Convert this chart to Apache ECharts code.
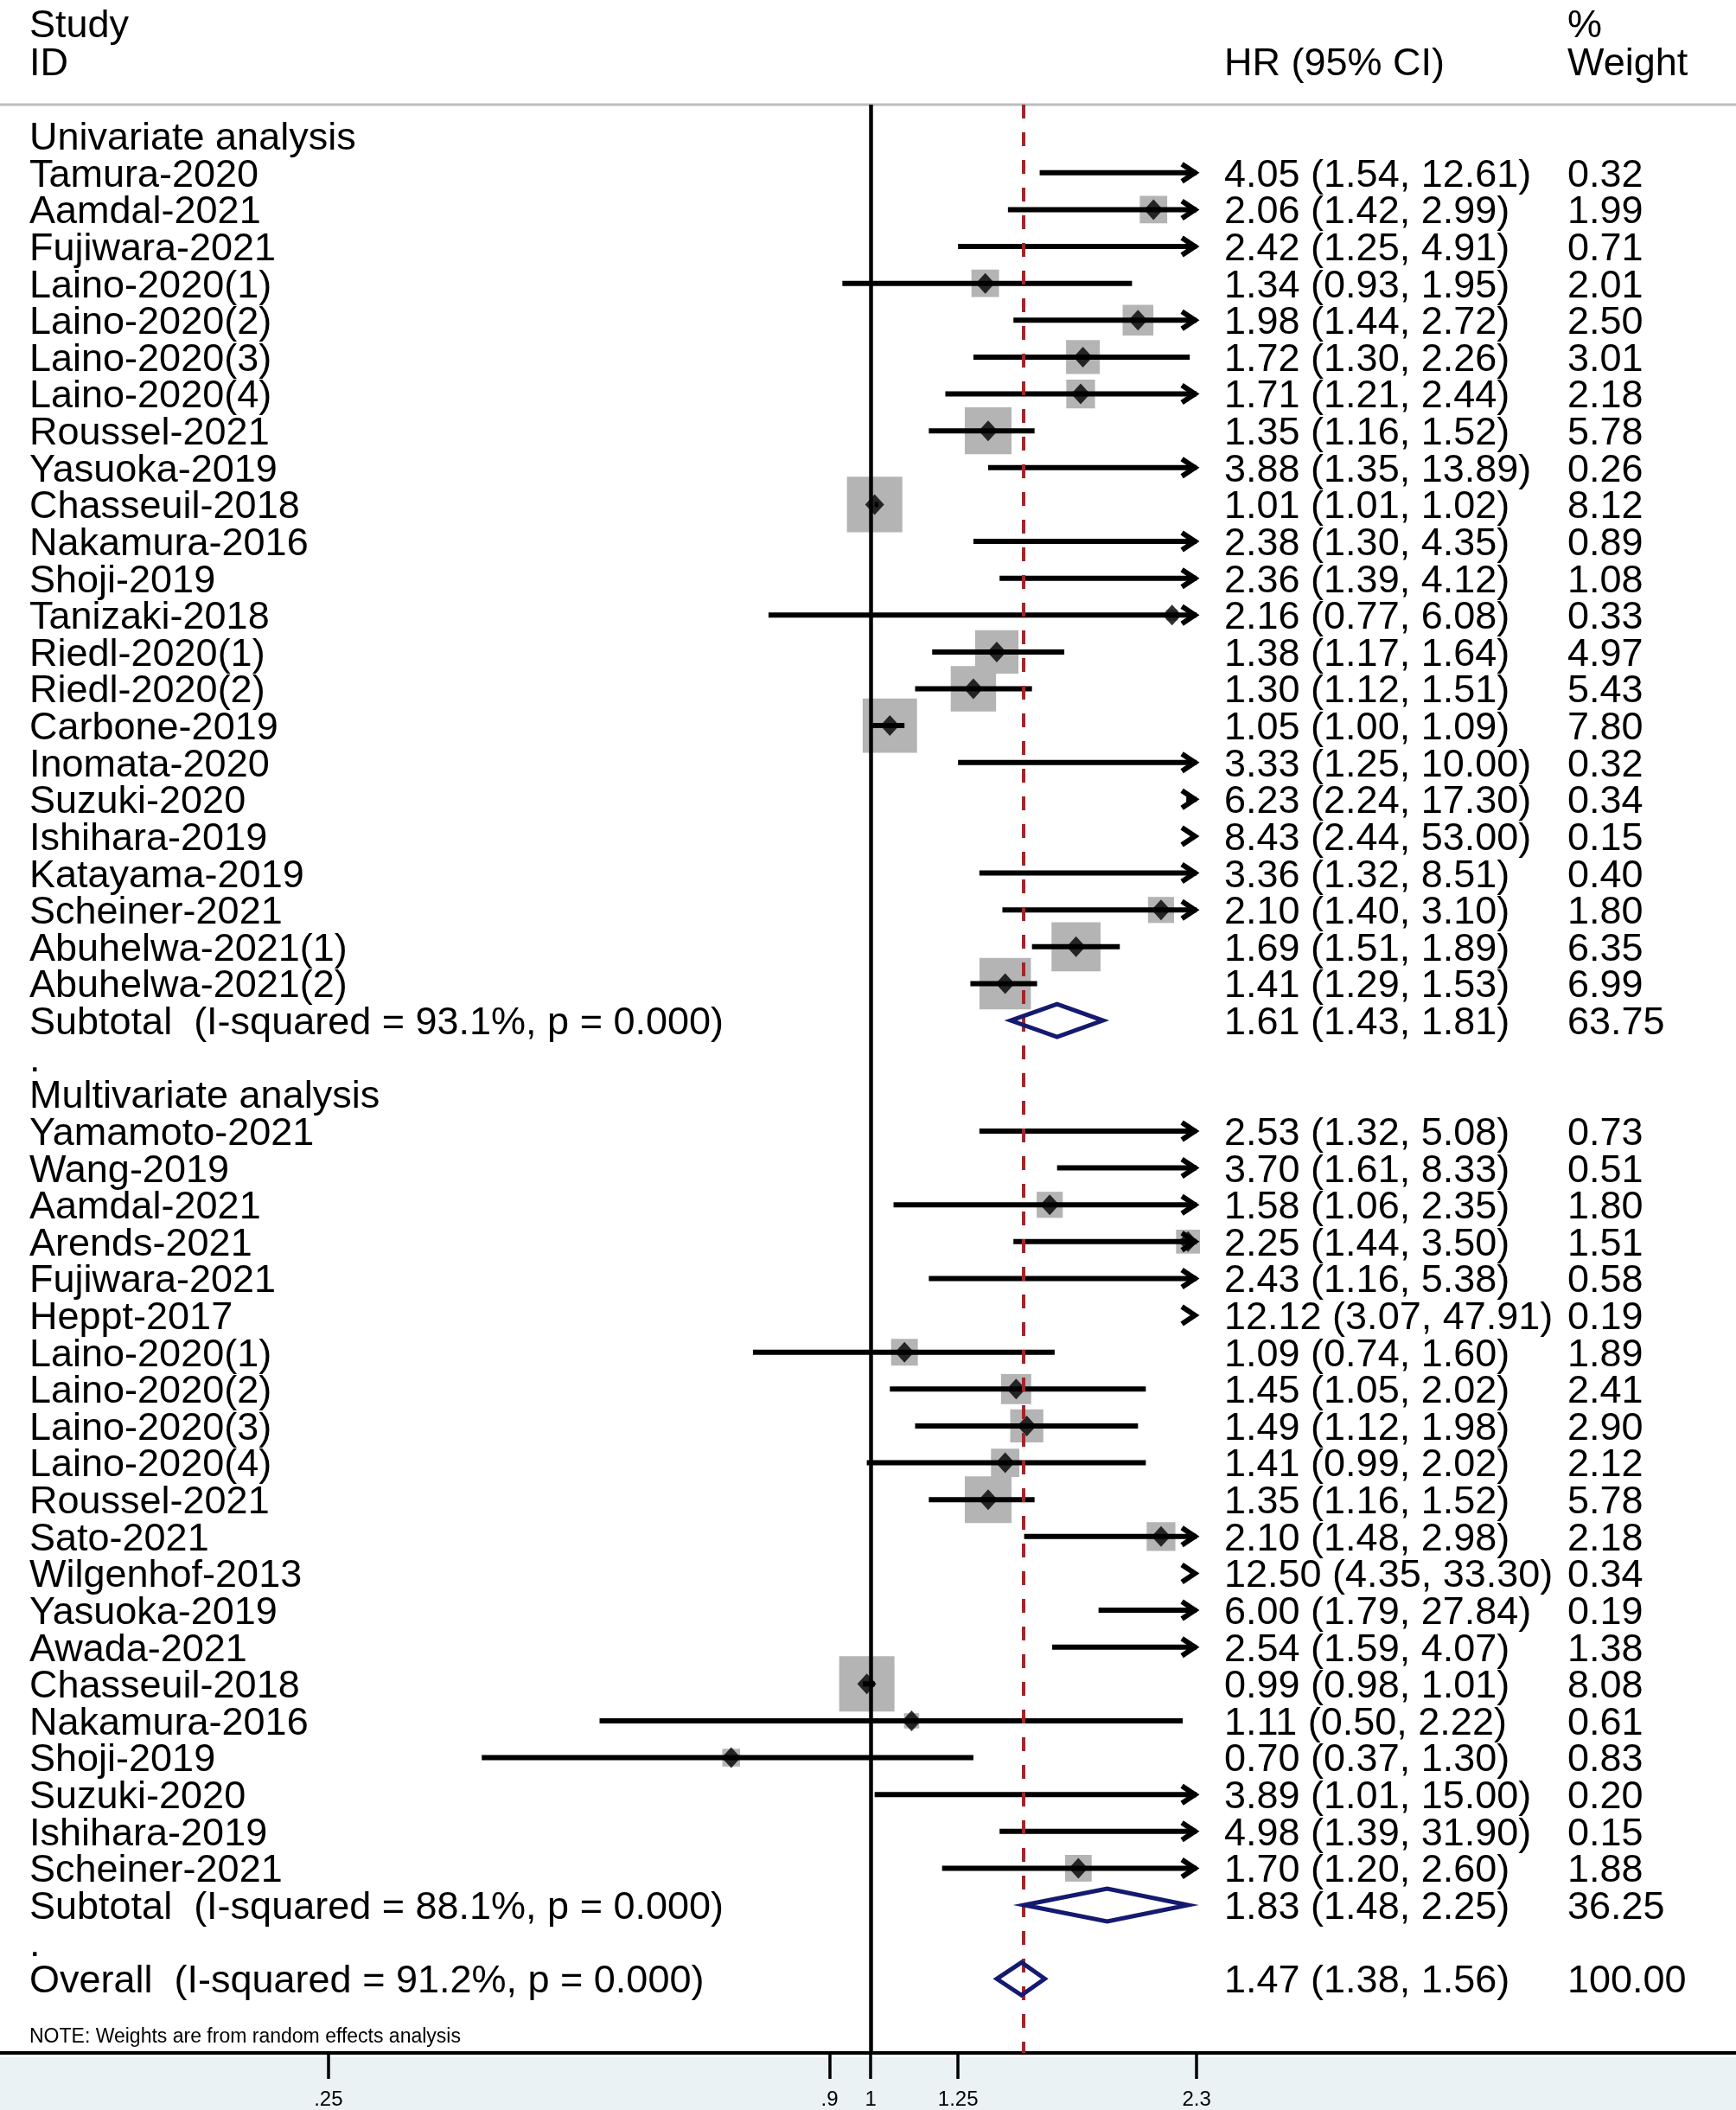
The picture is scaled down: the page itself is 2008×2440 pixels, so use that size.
<!DOCTYPE html>
<html>
<head>
<meta charset="utf-8">
<title>Forest plot</title>
<script src="https://cdn.jsdelivr.net/npm/echarts@6/dist/echarts.min.js"></script>
<style>
  html, body { margin: 0; padding: 0; background: #fff; }
  #chart { width: 2008px; height: 2440px; }
</style>
</head>
<body>
<div id="chart"></div>
<script>
// one entry per row, top to bottom
// h = group heading, s = study, p = pooled estimate, b = blank row
const rowKinds = [
    'h',
    's','s','s','s','s','s','s','s','s','s','s','s','s','s','s','s','s','s','s','s','s','s','s',
    'p','b','h',
    's','s','s','s','s','s','s','s','s','s','s','s','s','s','s','s','s','s','s','s','s',
    'p','b','p'
];
const rowLabels = [
    'Univariate analysis',
    'Tamura-2020', 'Aamdal-2021', 'Fujiwara-2021', 'Laino-2020(1)', 'Laino-2020(2)',
    'Laino-2020(3)', 'Laino-2020(4)', 'Roussel-2021', 'Yasuoka-2019', 'Chasseuil-2018',
    'Nakamura-2016', 'Shoji-2019', 'Tanizaki-2018', 'Riedl-2020(1)', 'Riedl-2020(2)',
    'Carbone-2019', 'Inomata-2020', 'Suzuki-2020', 'Ishihara-2019', 'Katayama-2019',
    'Scheiner-2021', 'Abuhelwa-2021(1)', 'Abuhelwa-2021(2)',
    'Subtotal  (I-squared = 93.1%, p = 0.000)',
    '.',
    'Multivariate analysis',
    'Yamamoto-2021', 'Wang-2019', 'Aamdal-2021', 'Arends-2021', 'Fujiwara-2021',
    'Heppt-2017', 'Laino-2020(1)', 'Laino-2020(2)', 'Laino-2020(3)', 'Laino-2020(4)',
    'Roussel-2021', 'Sato-2021', 'Wilgenhof-2013', 'Yasuoka-2019', 'Awada-2021',
    'Chasseuil-2018', 'Nakamura-2016', 'Shoji-2019', 'Suzuki-2020', 'Ishihara-2019',
    'Scheiner-2021',
    'Subtotal  (I-squared = 88.1%, p = 0.000)',
    '.',
    'Overall  (I-squared = 91.2%, p = 0.000)'
];
const hr = [
    null,
    4.05, 2.06, 2.42, 1.34, 1.98, 1.72, 1.71, 1.35, 3.88, 1.01, 2.38, 2.36,
    2.16, 1.38, 1.30, 1.05, 3.33, 6.23, 8.43, 3.36, 2.10, 1.69, 1.41,
    1.61, null, null,
    2.53, 3.70, 1.58, 2.25, 2.43, 12.12, 1.09, 1.45, 1.49, 1.41, 1.35,
    2.10, 12.50, 6.00, 2.54, 0.99, 1.11, 0.70, 3.89, 4.98, 1.70,
    1.83, null, 1.47
];
const ciLow = [
    null,
    1.54, 1.42, 1.25, 0.93, 1.44, 1.30, 1.21, 1.16, 1.35, 1.01, 1.30, 1.39,
    0.77, 1.17, 1.12, 1.00, 1.25, 2.24, 2.44, 1.32, 1.40, 1.51, 1.29,
    1.43, null, null,
    1.32, 1.61, 1.06, 1.44, 1.16, 3.07, 0.74, 1.05, 1.12, 0.99, 1.16,
    1.48, 4.35, 1.79, 1.59, 0.98, 0.50, 0.37, 1.01, 1.39, 1.20,
    1.48, null, 1.38
];
const ciHigh = [
    null,
    12.61, 2.99, 4.91, 1.95, 2.72, 2.26, 2.44, 1.52, 13.89, 1.02, 4.35, 4.12,
    6.08, 1.64, 1.51, 1.09, 10.00, 17.30, 53.00, 8.51, 3.10, 1.89, 1.53,
    1.81, null, null,
    5.08, 8.33, 2.35, 3.50, 5.38, 47.91, 1.60, 2.02, 1.98, 2.02, 1.52,
    2.98, 33.30, 27.84, 4.07, 1.01, 2.22, 1.30, 15.00, 31.90, 2.60,
    2.25, null, 1.56
];
const weights = [
    null,
    0.32, 1.99, 0.71, 2.01, 2.50, 3.01, 2.18, 5.78, 0.26, 8.12, 0.89, 1.08,
    0.33, 4.97, 5.43, 7.80, 0.32, 0.34, 0.15, 0.40, 1.80, 6.35, 6.99,
    63.75, null, null,
    0.73, 0.51, 1.80, 1.51, 0.58, 0.19, 1.89, 2.41, 2.90, 2.12, 5.78,
    2.18, 0.34, 0.19, 1.38, 8.08, 0.61, 0.83, 0.20, 0.15, 1.88,
    36.25, null, 100.00
];
const overallHR = 1.47;
const tickValues = [0.25, 0.9, 1, 1.25, 2.3];
const tickLabels = ['.25', '.9', '1', '1.25', '2.3'];
// the plotted range ends at 2.3, wider intervals get an arrow
const clipHR = 2.3;
const axisMinHR = 0.108;
const axisMaxHR = 9.13;

const FONT = "'Liberation Sans', Arial, Helvetica, sans-serif";
const ln = Math.log;
const rowIdx = rowKinds.map((k, i) => i);

// rows -> series data
const boxData = [], pointData = [], ciData = [], pooledData = [];
rowKinds.forEach((k, i) => {
    if (k === 's') {
        ciData.push([ln(ciLow[i]), ln(ciHigh[i]), i]);
        if (hr[i] <= clipHR) {
            boxData.push([ln(hr[i]), i, weights[i]]);
            pointData.push([ln(hr[i]), i]);
        }
    } else if (k === 'p') {
        pooledData.push([ln(ciLow[i]), ln(hr[i]), ln(ciHigh[i]), i]);
    }
});
const hrText = rowKinds.map((k, i) =>
    (k === 's' || k === 'p')
        ? hr[i].toFixed(2) + ' (' + ciLow[i].toFixed(2) + ', ' + ciHigh[i].toFixed(2) + ')'
        : '');
const weightText = rowKinds.map((k, i) =>
    (k === 's' || k === 'p') ? weights[i].toFixed(2) : '');

// rows: first row centred at 157px, 42.68px apart, grid from 121 to 2377
const gridTop = 121, gridBottom = 2377, rowStep = 42.68, firstRow = 157.2;
const yMin = (gridTop - firstRow) / rowStep;
const yMax = (gridBottom - firstRow) / rowStep;
// text sits ~3.5px lower than the marks of its row
const textShift = 3.5 / rowStep;

// one axis per text column and row parity, so neighbouring labels never
// touch and none get dropped by the axis end-label overlap check
const textCol = (offset, labels, parity) => ({
    type: 'value',
    position: 'left',
    offset: offset,
    inverse: true,
    min: yMin - textShift,
    max: yMax - textShift,
    axisLine: { show: false, onZero: false },
    axisTick: { show: false },
    splitLine: { show: false },
    axisLabel: {
        inside: true,
        margin: 0,
        showMinLabel: true,
        showMaxLabel: true,
        hideOverlap: false,
        customValues: rowIdx.filter(i => i % 2 === parity),
        formatter: (v) => labels[Math.round(v)] || '',
        color: '#000',
        fontSize: 45,
        fontFamily: FONT
    }
});

const chart = echarts.init(document.getElementById('chart'));
const option = {
    animation: false,
    backgroundColor: '#fff',
    grid: {
        left: 0,
        right: 0,
        top: gridTop,
        bottom: 2440 - gridBottom,
        containLabel: false
    },
    xAxis: {
        type: 'value',
        position: 'bottom',
        min: ln(axisMinHR),
        max: ln(axisMaxHR),
        axisLine: { show: true, onZero: false, lineStyle: { color: '#000', width: 4 } },
        axisTick: {
            show: true,
            customValues: tickValues.map(ln),
            length: 30,
            lineStyle: { color: '#000', width: 3.5 }
        },
        axisLabel: {
            customValues: tickValues.map(ln),
            formatter: (v) => {
                const i = tickValues.findIndex(t => Math.abs(ln(t) - v) < 1e-6);
                return i >= 0 ? tickLabels[i] : '';
            },
            margin: 42,
            color: '#000',
            fontSize: 24,
            fontFamily: FONT
        },
        splitLine: { show: false }
    },
    yAxis: [
        // first axis carries the plotted marks
        {
            type: 'value',
            inverse: true,
            min: yMin,
            max: yMax,
            show: false
        },
        textCol(-34, rowLabels, 0),
        textCol(-34, rowLabels, 1),
        textCol(-1416, hrText, 0),
        textCol(-1416, hrText, 1),
        textCol(-1813, weightText, 0),
        textCol(-1813, weightText, 1)
    ],
    graphic: [
        {
            type: 'rect', z: -10,
            shape: { x: 0, y: gridBottom + 2, width: 2008, height: 2440 - gridBottom - 2 },
            style: { fill: '#eaf2f3' }
        },
        {
            type: 'line',
            shape: { x1: 0, y1: gridTop, x2: 2008, y2: gridTop },
            style: { stroke: '#bdbdbd', lineWidth: 3 }
        },
        { type: 'text', x: 34, y: 31, style: { text: 'Study', font: '45px ' + FONT, fill: '#000', verticalAlign: 'middle' } },
        { type: 'text', x: 34, y: 75, style: { text: 'ID', font: '45px ' + FONT, fill: '#000', verticalAlign: 'middle' } },
        { type: 'text', x: 1416, y: 75, style: { text: 'HR (95% CI)', font: '45px ' + FONT, fill: '#000', verticalAlign: 'middle' } },
        { type: 'text', x: 1813, y: 31, style: { text: '%', font: '45px ' + FONT, fill: '#000', verticalAlign: 'middle' } },
        { type: 'text', x: 1813, y: 75, style: { text: 'Weight', font: '45px ' + FONT, fill: '#000', verticalAlign: 'middle' } },
        { type: 'text', x: 34, y: 2356, style: { text: 'NOTE: Weights are from random effects analysis', font: '23px ' + FONT, fill: '#000', verticalAlign: 'middle' } }
    ],
    series: [
        // reference lines: no effect and overall estimate
        {
            type: 'line',
            data: [],
            z: 1,
            markLine: {
                silent: true,
                animation: false,
                symbol: ['none', 'none'],
                label: { show: false },
                data: [
                    { xAxis: 0, lineStyle: { color: '#000', width: 4.5, type: 'solid' } },
                    { xAxis: ln(overallHR), lineStyle: { color: '#a1262b', width: 4, type: [16, 16] } }
                ]
            }
        },
        // weight boxes, side ~ sqrt(weight)
        {
            type: 'scatter',
            z: 2,
            symbol: 'rect',
            symbolSize: (v) => 22.5 * Math.sqrt(v[2]),
            itemStyle: { color: '#b4b4b4', opacity: 1 },
            data: boxData,
            silent: true
        },
        // confidence intervals, arrow when cut at 2.3
        {
            type: 'custom',
            z: 3,
            silent: true,
            encode: { x: [0, 1], y: 2 },
            data: ciData,
            renderItem: (params, api) => {
                const row = api.value(2);
                const edge = ln(clipHR);
                const lo = api.value(0), hi = api.value(1);
                const a = api.coord([lo, row]);
                const b = api.coord([Math.min(hi, edge), row]);
                const children = [];
                if (lo < edge) {
                    children.push({
                        type: 'line',
                        shape: { x1: a[0], y1: a[1], x2: b[0], y2: b[1] },
                        style: { stroke: '#000', lineWidth: 6 }
                    });
                }
                if (hi > edge) {
                    children.push({
                        type: 'polyline',
                        shape: { points: [[b[0] - 17, b[1] - 10], [b[0] - 2, b[1]], [b[0] - 17, b[1] + 10]] },
                        style: { stroke: '#000', lineWidth: 6, fill: 'none' }
                    });
                }
                return { type: 'group', children: children };
            }
        },
        // point estimates
        {
            type: 'scatter',
            z: 4,
            symbol: 'diamond',
            symbolSize: [22, 24],
            itemStyle: { color: '#000' },
            data: pointData,
            silent: true
        },
        // pooled estimates
        {
            type: 'custom',
            z: 5,
            silent: true,
            encode: { x: [0, 1, 2], y: 3 },
            data: pooledData,
            renderItem: (params, api) => {
                const row = api.value(3);
                const l = api.coord([api.value(0), row]);
                const m = api.coord([api.value(1), row]);
                const r = api.coord([api.value(2), row]);
                return {
                    type: 'polygon',
                    shape: { points: [[l[0], l[1]], [m[0], m[1] - 19], [r[0], r[1]], [m[0], m[1] + 19]] },
                    style: { fill: 'none', stroke: '#141a70', lineWidth: 5 }
                };
            }
        }
    ]
};
chart.setOption(option);
</script>
</body>
</html>
